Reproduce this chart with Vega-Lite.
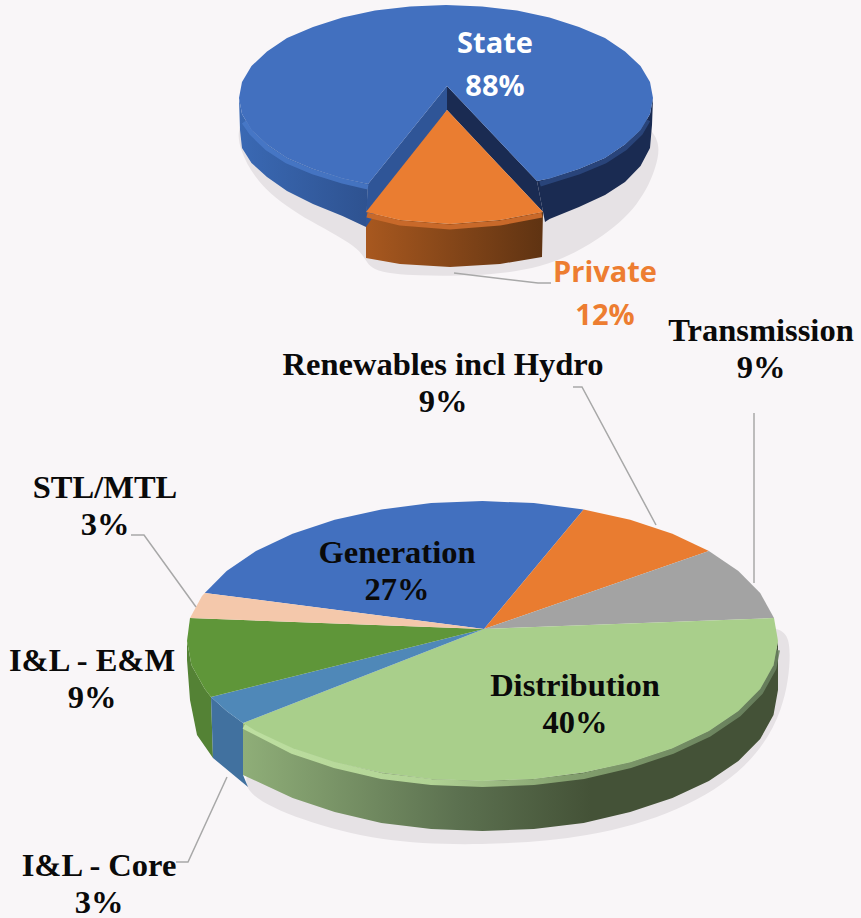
{"$schema":"https://vega.github.io/schema/vega-lite/v6.json","width":861,"height":918,"padding":0,"autosize":{"type":"none"},"background":"#f9f6f8","config":{"view":{"stroke":null}},
"datasets":{"shapes":[
{"p":"top shadow","x":[300,236,238,262,310,366,366,420,470,542,600,640,658,662,600],"y":[100,115,150,190,222,250,272,276,276,270,240,205,165,130,100]},
{"p":"low shadow","x":[300,243,245,300,380,480,590,680,750,785,792,785,700],"y":[700,770,795,820,842,846,838,812,768,710,650,620,640]},
{"p":"State rim left","x":[239,242,251.5,267,287,313,342.5,368,366,342.5,313,287,267,251.5,242,240],"y":[98,114,130,144.5,158,169,178.5,184,227,216,204,191,177,163,148,130]},
{"p":"State rim right","x":[537,549.5,579,605,625,640.5,650,653,652,650,640.5,625,605,579,549.5,545],"y":[181,178.5,169,158,144.5,130,114,98,125,148,166,182,195,207,219,222]},
{"p":"State wall left","x":[447,368,366,366,447],"y":[86,184,215,227,110]},
{"p":"State wall right","x":[447,537,545,543,447],"y":[86,181,222,212,110]},
{"p":"State","share":88,"x":[447,537,549.5,579,605,625,640.5,650,653,650,640.5,625,605,579,549.5,517,482,446,410,375,342.5,313,287,267,251.5,242,239,242,251.5,267,287,313,342.5,368],"y":[86,181,178.5,169,158,144.5,130,114,98,82,66,51.5,38,27,17.5,10.6,6.4,5,6.4,10.6,17.5,27,38,51.5,66,82,98,114,130,144.5,158,169,178.5,184]},
{"p":"Private rim","x":[366,400,450,500,543,542,500,450,400,366],"y":[212,220,224,220,212,257,264,267,264,258]},
{"p":"Private","share":12,"x":[447,366,400,450,500,543],"y":[110,212,220,224,220,212]},
{"p":"Distribution rim","x":[243,292.6,334.7,381.4,431.2,482.5,533.8,583.6,630.2,672.4,708.9,738.4,760.2,773.5,778,778,773.5,760.2,738.4,708.9,672.4,630.2,583.6,533.8,482.5,431.2,381.4,334.7,292.6,243],"y":[723,748.2,762.2,772.6,778.9,781,778.9,772.6,762.2,748.2,731,711,688.9,665.3,641,690,715,739,761,781,798,812,823,829,831,829,823,812,798,775]},
{"p":"E&M rim","x":[187,191.5,204.8,211,213,197,190,187],"y":[641,665.3,688.9,697,758,735,700,660]},
{"p":"Core rim","x":[211,226.6,243,243,248,213],"y":[697,711,723,775,787,758]},
{"p":"Generation","share":27,"x":[484,204.8,226.6,256,292.6,334.7,381.4,431.2,482.5,533.8,583.6],"y":[629,593,571,551,533.8,519.8,509.4,503.1,501,503.1,509.4]},
{"p":"Renewables","share":9,"x":[484,583.6,630.2,672.4,708.9],"y":[629,509.4,519.8,533.8,551]},
{"p":"Transmission","share":9,"x":[484,708.9,738.4,760.2,774],"y":[629,551,571,593,618]},
{"p":"Distribution","share":40,"x":[484,774,778,773.5,760.2,738.4,708.9,672.4,630.2,583.6,533.8,482.5,431.2,381.4,334.7,292.6,256,243],"y":[629,618,641,665.3,688.9,711,731,748.2,762.2,772.6,778.9,781,778.9,772.6,762.2,748.2,731,723]},
{"p":"Core","share":3,"x":[484,243,226.6,211],"y":[629,723,711,697]},
{"p":"E&M","share":9,"x":[484,211,204.8,191.5,187,190],"y":[629,697,688.9,665.3,641,618]},
{"p":"STL","share":3,"x":[484,190,202,204.8],"y":[629,618,596,593]}
],
"bevels":[
{"p":"state left","x":[244,251.5,267,287,313,342.5,368],"y":[122,133,148,161,172,181,187]},
{"p":"state right","x":[540,549.5,579,605,625,640.5,648],"y":[184,181,172,161,148,133,120]},
{"p":"private","x":[367,400,450,500,542],"y":[215,223,227,223,215]},
{"p":"dist","x":[244,292.6,334.7,381.4,431.2,482.5,533.8,583.6,630.2,672.4,708.9,738.4,760.2,773.5,777],"y":[726,751,765,776,782,784,782,776,765,751,734,714,692,668,650]}
],
"leaders":[
{"p":"Private","x":[454,538,551],"y":[273,283,283]},
{"p":"Renewables","x":[573,582,656],"y":[387,387,525]},
{"p":"Transmission","x":[754,754],"y":[413,583]},
{"p":"STL","x":[131,144,196],"y":[535,535,607]},
{"p":"Core","x":[227,188,176],"y":[777,862,862]}
],
"labels":[
{"label":"Transmission\n9%","share":9,"x":761,"y":331},
{"label":"Renewables incl Hydro\n9%","share":9,"x":443,"y":365},
{"label":"STL/MTL\n3%","share":3,"x":105,"y":488},
{"label":"Generation\n27%","share":27,"x":397,"y":553},
{"label":"Distribution\n40%","share":40,"x":575,"y":686},
{"label":"I&L - E&M\n9%","share":9,"x":92,"y":661},
{"label":"I&L - Core\n3%","share":3,"x":99,"y":866}
],
"labels2":[
{"label":"State\n88%","share":88,"x":495,"y":44,"c":"State"},
{"label":"Private\n12%","share":12,"x":605,"y":273,"c":"Private"}
]},
"encoding":{"x":{"field":"x","type":"quantitative","scale":{"domain":[0,861]},"axis":null},"y":{"field":"y","type":"quantitative","scale":{"domain":[918,0]},"axis":null}},
"layer":[
{"data":{"name":"shapes"},"transform":[{"filter":{"field":"p","oneOf":["top shadow","low shadow"]}},{"flatten":["x","y"]},{"window":[{"op":"row_number","as":"o"}]}],"mark":{"type":"line","interpolate":"basis-closed","fill":"#e6e2e5","strokeWidth":0},"encoding":{"detail":{"field":"p"},"order":{"field":"o"}}},
{"data":{"name":"shapes"},"transform":[{"filter":{"field":"p","equal":"State rim left"}},{"flatten":["x","y"]},{"window":[{"op":"row_number","as":"o"}]}],"mark":{"type":"line","interpolate":"linear-closed","strokeWidth":0,"fill":{"gradient":"linear","x1":0,"x2":1,"y1":0,"y2":0,"stops":[{"offset":0,"color":"#3a69b4"},{"offset":1,"color":"#2e5290"}]}},"encoding":{"order":{"field":"o"}}},
{"data":{"name":"shapes"},"transform":[{"filter":{"field":"p","equal":"Private rim"}},{"flatten":["x","y"]},{"window":[{"op":"row_number","as":"o"}]}],"mark":{"type":"line","interpolate":"linear-closed","strokeWidth":0,"fill":{"gradient":"linear","x1":0,"x2":1,"y1":0,"y2":0,"stops":[{"offset":0,"color":"#a8581f"},{"offset":1,"color":"#5f3312"}]}},"encoding":{"order":{"field":"o"}}},
{"data":{"name":"shapes"},"transform":[{"filter":{"field":"p","equal":"Distribution rim"}},{"flatten":["x","y"]},{"window":[{"op":"row_number","as":"o"}]}],"mark":{"type":"line","interpolate":"linear-closed","strokeWidth":0,"fill":{"gradient":"linear","x1":0,"x2":1,"y1":0,"y2":0,"stops":[{"offset":0,"color":"#8fae78"},{"offset":0.4,"color":"#5c7150"},{"offset":0.65,"color":"#445237"},{"offset":1,"color":"#445237"}]}},"encoding":{"order":{"field":"o"}}},
{"data":{"name":"shapes"},"transform":[{"filter":{"field":"p","oneOf":["State rim right","State wall left","State wall right","E&M rim","Core rim"]}},{"flatten":["x","y"]},{"window":[{"op":"row_number","as":"o"}]}],"mark":{"type":"line","interpolate":"linear-closed","strokeWidth":0},"encoding":{"detail":{"field":"p"},"order":{"field":"o"},"fill":{"field":"p","type":"nominal","legend":null,"scale":{"domain":["State rim right","State wall left","State wall right","E&M rim","Core rim","State","Generation","Renewables","Transmission","Distribution","Core","E&M","STL"],"range":["#1a2b52","#2f5597","#1a2b52","#548235","#41719f","#4270bf","#4270bf","#e97c30","#a3a3a3","#a9cf8b","#4f88b8","#5f9639","#f4c8ab"]}}}},
{"data":{"name":"bevels"},"transform":[{"filter":{"field":"p","equal":"state left"}},{"flatten":["x","y"]},{"window":[{"op":"row_number","as":"o"}]}],"mark":{"type":"line","strokeWidth":5,"stroke":"#4a7bcb","opacity":0.8},"encoding":{"order":{"field":"o"}}},
{"data":{"name":"bevels"},"transform":[{"filter":{"field":"p","equal":"state right"}},{"flatten":["x","y"]},{"window":[{"op":"row_number","as":"o"}]}],"mark":{"type":"line","strokeWidth":5,"stroke":"#2d4b85","opacity":0.8},"encoding":{"order":{"field":"o"}}},
{"data":{"name":"bevels"},"transform":[{"filter":{"field":"p","equal":"dist"}},{"flatten":["x","y"]},{"window":[{"op":"row_number","as":"o"}]}],"mark":{"type":"line","strokeWidth":6,"opacity":0.85,"stroke":{"gradient":"linear","x1":0,"x2":1,"y1":0,"y2":0,"stops":[{"offset":0,"color":"#c6e8a8"},{"offset":0.35,"color":"#bfe3a0"},{"offset":0.6,"color":"#8fae78"},{"offset":1,"color":"#6a8260"}]}},"encoding":{"order":{"field":"o"}}},
{"data":{"name":"shapes"},"transform":[{"filter":{"field":"p","oneOf":["State","Generation","Renewables","Transmission","Distribution","Core","E&M","STL"]}},{"flatten":["x","y"]},{"window":[{"op":"row_number","as":"o"}]}],"mark":{"type":"line","interpolate":"linear-closed","strokeWidth":0},"encoding":{"detail":{"field":"p"},"order":{"field":"o"},"fill":{"field":"p","type":"nominal","legend":null,"scale":{"domain":["State rim right","State wall left","State wall right","E&M rim","Core rim","State","Generation","Renewables","Transmission","Distribution","Core","E&M","STL"],"range":["#1a2b52","#2f5597","#1a2b52","#548235","#41719f","#4270bf","#4270bf","#e97c30","#a3a3a3","#a9cf8b","#4f88b8","#5f9639","#f4c8ab"]}}}},
{"data":{"name":"bevels"},"transform":[{"filter":{"field":"p","equal":"private"}},{"flatten":["x","y"]},{"window":[{"op":"row_number","as":"o"}]}],"mark":{"type":"line","strokeWidth":5,"stroke":"#c8692a"},"encoding":{"order":{"field":"o"}}},
{"data":{"name":"shapes"},"transform":[{"filter":{"field":"p","equal":"Private"}},{"flatten":["x","y"]},{"window":[{"op":"row_number","as":"o"}]}],"mark":{"type":"line","interpolate":"linear-closed","strokeWidth":0,"fill":"#ea7d31"},"encoding":{"order":{"field":"o"}}},
{"data":{"name":"leaders"},"transform":[{"flatten":["x","y"]},{"window":[{"op":"row_number","as":"o"}]}],"mark":{"type":"line","stroke":"#a8a8a8","strokeWidth":1.5},"encoding":{"detail":{"field":"p"},"order":{"field":"o"}}},
{"data":{"name":"labels"},"mark":{"type":"text","font":"Liberation Serif","fontWeight":"bold","fontSize":32.5,"lineBreak":"\n","lineHeight":37,"color":"#0a0a0a","align":"center","baseline":"middle"},"encoding":{"text":{"field":"label"}}},
{"data":{"name":"labels2"},"mark":{"type":"text","font":"Open Sans","fontWeight":"bold","fontSize":29,"lineBreak":"\n","lineHeight":43,"align":"center","baseline":"middle"},"encoding":{"text":{"field":"label"},"color":{"field":"c","type":"nominal","legend":null,"scale":{"domain":["State","Private"],"range":["#ffffff","#ed7d31"]}}}}
]}
